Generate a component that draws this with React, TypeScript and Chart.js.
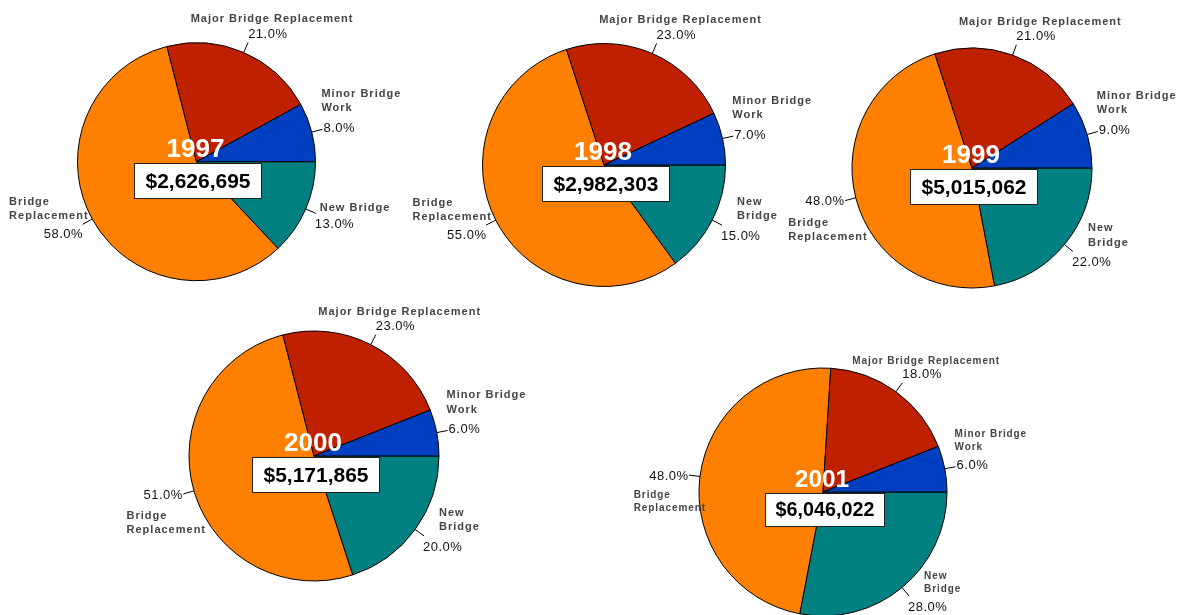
import React, { useEffect, useRef } from 'react';
import { Chart, registerables } from 'chart.js';

Chart.register(...registerables);

const W = 1179;
const H = 615;

// ---- data ----
const YEARS = ['1997', '1998', '1999', '2000', '2001'];
const CATEGORIES = ['New Bridge', 'Bridge Replacement', 'Major Bridge Replacement', 'Minor Bridge Work'];
const SHARE_1997 = [13, 58, 21, 8];
const SHARE_1998 = [15, 55, 23, 7];
const SHARE_1999 = [22, 48, 21, 9];
const SHARE_2000 = [20, 51, 23, 6];
const SHARE_2001 = [28, 48, 18, 6];
const SHARES = [SHARE_1997, SHARE_1998, SHARE_1999, SHARE_2000, SHARE_2001];
const TOTALS = [2626695, 2982303, 5015062, 5171865, 6046022];

// ---- style ----
const COLORS = ['#008080', '#FF8000', '#BF2000', '#0040C0'];
const FONT = '"Liberation Sans", Arial, Helvetica, sans-serif';
const PCT_SIZE = 13;
const PCT_SPACING = 0.5;

// pie placement on the page (layout, not data)
const LAYOUT = [
  { cx: 196.5, cy: 161.7, r: 119, k: 1, nameSize: 11, nameSpacing: 1, wrapNew: false },
  { cx: 604, cy: 165, r: 121.5, k: 1, nameSize: 11, nameSpacing: 1, wrapNew: true },
  { cx: 972, cy: 168, r: 120, k: 1, nameSize: 11, nameSpacing: 1, wrapNew: true },
  { cx: 314, cy: 456, r: 125, k: 1, nameSize: 11, nameSpacing: 1, wrapNew: true },
  { cx: 823, cy: 492, r: 124, k: 0.94, nameSize: 10, nameSpacing: 0.9, wrapNew: true },
];

function fmtMoney(n: number) {
  return '$' + n.toLocaleString('en-US');
}

function measure(ctx: CanvasRenderingContext2D, text: string, spacing: number) {
  return ctx.measureText(text).width - spacing;
}

function makeLabelPlugin(idx: number) {
  const L = LAYOUT[idx];
  return {
    id: 'sliceLabels' + idx,
    afterDraw(chart: any) {
      const ctx: CanvasRenderingContext2D = chart.ctx;
      const meta = chart.getDatasetMeta(0);
      const values: number[] = chart.data.datasets[0].data;
      const total = values.reduce((a, b) => a + b, 0);
      const ls = L.nameSize * 1.3;
      ctx.save();
      meta.data.forEach((arc: any, i: number) => {
        const { x, y, startAngle, endAngle, outerRadius } = arc.getProps(
          ['x', 'y', 'startAngle', 'endAngle', 'outerRadius'],
          true
        );
        const mid = (startAngle + endAngle) / 2;
        const c = Math.cos(mid);
        const s = Math.sin(mid);
        const x0 = x + c * outerRadius;
        const y0 = y + s * outerRadius;
        const x1 = x + c * (outerRadius + 11);
        const y1 = y + s * (outerRadius + 11);
        ctx.strokeStyle = '#000';
        ctx.lineWidth = 1;
        ctx.beginPath();
        ctx.moveTo(x0, y0);
        ctx.lineTo(x1, y1);
        ctx.stroke();

        const pct = ((values[i] / total) * 100).toFixed(1) + '%';
        const cat = CATEGORIES[i];
        const top = c >= 0 && s < -0.6;
        const words = cat.split(' ');
        let lines: string[];
        if (top) lines = [cat];
        else if (words.length === 3) lines = [words[0] + ' ' + words[1], words[2]];
        else if (cat === 'New Bridge' && !L.wrapNew) lines = [cat];
        else lines = words;

        ctx.font = `${PCT_SIZE}px ${FONT}`;
        (ctx as any).letterSpacing = PCT_SPACING + 'px';
        const pw = measure(ctx, pct, PCT_SPACING);

        ctx.font = `bold ${L.nameSize}px ${FONT}`;
        (ctx as any).letterSpacing = L.nameSpacing + 'px';
        const lw = lines.map((t) => measure(ctx, t, L.nameSpacing));
        const maxW = Math.max(...lw);

        let px: number, pcy: number;
        let nameX: (j: number) => number;
        let nameY: (j: number) => number;
        const n = lines.length;
        const sc = L.nameSize / 11;

        if (c >= 0) {
          if (s < -0.6) {
            px = x1;
            pcy = y1 - 8;
            const ncx = px + pw / 2 + 4;
            nameX = (j) => ncx - lw[j] / 2;
            nameY = (j) => pcy - 15 * sc - (n - 1 - j) * ls;
          } else if (s < 0) {
            px = x1 + 1;
            pcy = y1 - 1;
            nameX = () => x1 - 1;
            nameY = (j) => pcy - 20 * sc - (n - 1 - j) * ls;
          } else {
            px = x1 - 1;
            pcy = y1 + 11;
            const left = px + (n > 1 ? 16 : 5);
            nameX = () => left;
            const off = n > 1 ? 20 * sc : 16;
            nameY = (j) => pcy - off - (n - 1 - j) * ls;
          }
        } else {
          if (s > 0.34) {
            const pr = x1;
            px = pr - pw;
            pcy = y1 + 10;
            const left = pr + 5 - maxW;
            nameX = () => left;
            nameY = (j) => pcy - 18 * sc - (n - 1 - j) * ls;
          } else {
            const pr = x1 - 1;
            px = pr - pw;
            pcy = y1 + 1;
            const left = px - 17 * sc;
            nameX = () => left;
            nameY = (j) => pcy + 21 * sc + j * ls;
          }
        }

        ctx.textAlign = 'left';
        ctx.textBaseline = 'middle';
        ctx.fillStyle = '#444444';
        lines.forEach((t, j) => ctx.fillText(t, nameX(j), nameY(j)));

        ctx.font = `${PCT_SIZE}px ${FONT}`;
        (ctx as any).letterSpacing = PCT_SPACING + 'px';
        ctx.fillStyle = '#111111';
        ctx.fillText(pct, px, pcy);
      });

      // center year + total box
      (ctx as any).letterSpacing = '0px';
      const cx = L.cx;
      const cy = L.cy;
      ctx.textAlign = 'center';
      ctx.textBaseline = 'alphabetic';
      ctx.font = `bold ${26 * L.k}px ${FONT}`;
      ctx.fillStyle = '#ffffff';
      ctx.fillText(YEARS[idx], cx - 1, cy - 5);

      const money = fmtMoney(TOTALS[idx]);
      ctx.font = `bold ${21 * L.k}px ${FONT}`;
      const tw = ctx.measureText(money).width;
      const bw = Math.round(tw + 22 * L.k);
      const bh = Math.round(35 * L.k);
      const bx = Math.round(cx + 1 - bw / 2) + 0.5;
      const by = Math.round(cy + 1) + 0.5;
      ctx.fillStyle = '#ffffff';
      ctx.fillRect(bx, by, bw, bh);
      ctx.strokeStyle = '#222';
      ctx.lineWidth = 1;
      ctx.strokeRect(bx, by, bw, bh);
      ctx.fillStyle = '#000';
      ctx.textBaseline = 'middle';
      ctx.fillText(money, bx + bw / 2, by + bh / 2 + 1);
      ctx.restore();
    },
  };
}

function PieCanvas({ idx }: { idx: number }) {
  const ref = useRef<HTMLCanvasElement | null>(null);
  useEffect(() => {
    const L = LAYOUT[idx];
    const half = 40;
    const chart = new Chart(ref.current as HTMLCanvasElement, {
      type: 'pie',
      data: {
        labels: CATEGORIES,
        datasets: [
          {
            data: SHARES[idx],
            backgroundColor: COLORS,
            borderColor: '#000',
            borderWidth: 1,
            hoverOffset: 0,
            clip: false as any,
          } as any,
        ],
      },
      options: {
        responsive: false,
        maintainAspectRatio: false,
        animation: false,
        events: [],
        rotation: 90,
        radius: L.r,
        layout: {
          padding: {
            left: L.cx - half,
            right: W - L.cx - half,
            top: L.cy - half,
            bottom: H - L.cy - half,
          },
        },
        plugins: {
          legend: { display: false },
          tooltip: { enabled: false },
        },
      } as any,
      plugins: [makeLabelPlugin(idx)],
    });
    return () => chart.destroy();
  }, [idx]);
  return (
    <canvas
      ref={ref}
      width={W}
      height={H}
      style={{ position: 'absolute', left: 0, top: 0, width: W, height: H }}
    />
  );
}

export default function App() {
  return (
    <div
      style={{
        position: 'fixed',
        left: 0,
        top: 0,
        width: W,
        height: H,
        background: '#ffffff',
        overflow: 'hidden',
      }}
    >
      {YEARS.map((y, i) => (
        <PieCanvas key={y} idx={i} />
      ))}
    </div>
  );
}
